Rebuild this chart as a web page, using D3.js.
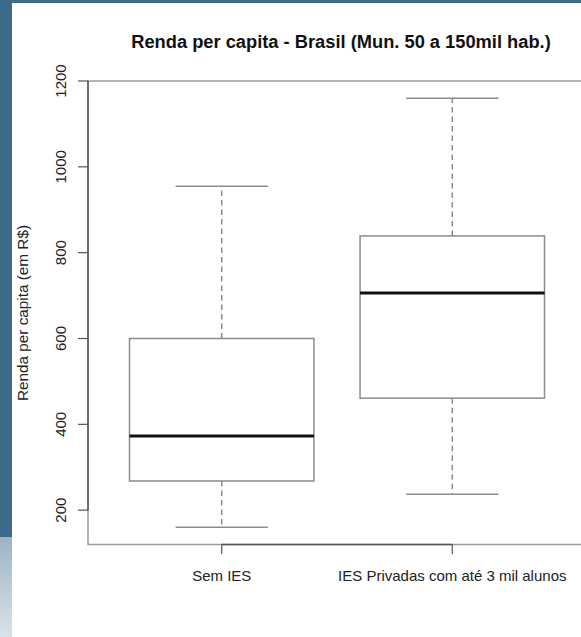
<!DOCTYPE html>
<html>
<head>
<meta charset="utf-8">
<script src="https://cdn.jsdelivr.net/npm/d3@7"></script>
<style>
  html, body { margin: 0; padding: 0; background: #fff; }
  svg { display: block; font-family: "Liberation Sans", Arial, sans-serif; }
</style>
</head>
<body>
<svg id="chart" width="581" height="637"></svg>
<script>
// boxplot stats
const categories = ["Sem IES", "IES Privadas com até 3 mil alunos"];
const whiskerLow = [160, 237];
const q1 = [268, 461];
const median = [373, 706];
const q3 = [600, 839];
const whiskerHigh = [955, 1160];
const yTicks = [200, 400, 600, 800, 1000, 1200];

const W = 581, H = 637;
const svg = d3.select("#chart");

// page background bits (blue side band)
const defs = svg.append("defs");
const grad = defs.append("linearGradient").attr("id", "fade").attr("x1", 0).attr("y1", 0).attr("x2", 0).attr("y2", 1);
grad.append("stop").attr("offset", "0%").attr("stop-color", "#9db3c4");
grad.append("stop").attr("offset", "100%").attr("stop-color", "#d9e2e9");

svg.append("rect").attr("x", 0).attr("y", 0).attr("width", W).attr("height", 3).attr("fill", "#3d6a8a");
svg.append("rect").attr("x", 0).attr("y", 0).attr("width", 12).attr("height", 537).attr("fill", "#3d6a8a");
svg.append("rect").attr("x", 0).attr("y", 537).attr("width", 12).attr("height", H - 537).attr("fill", "url(#fade)");

// scales
const x = d3.scaleLinear().domain([0.42, 2.58]).range([88, 586]);
const y = d3.scaleLinear().domain([120, 1200]).range([544.5, 81]);

const boxW = (x(2) - x(1)) * 0.8;
const capW = boxW * 0.5;

const data = categories.map((c, i) => ({
  name: c, pos: i + 1,
  lo: whiskerLow[i], q1: q1[i], med: median[i], q3: q3[i], hi: whiskerHigh[i]
}));

const grey = "#8c8c8c";

// frame
svg.append("rect")
  .attr("x", x(0.42)).attr("y", y(1200))
  .attr("width", x(2.58) - x(0.42)).attr("height", y(120) - y(1200))
  .attr("fill", "none").attr("stroke", "#9a9a9a").attr("stroke-width", 1.5);

const g = svg.append("g").selectAll("g").data(data).join("g");

// whiskers
g.append("line")
  .attr("x1", d => x(d.pos)).attr("x2", d => x(d.pos))
  .attr("y1", d => y(d.q3)).attr("y2", d => y(d.hi))
  .attr("stroke", grey).attr("stroke-width", 1.5).attr("stroke-dasharray", "5.5,4");
g.append("line")
  .attr("x1", d => x(d.pos)).attr("x2", d => x(d.pos))
  .attr("y1", d => y(d.q1)).attr("y2", d => y(d.lo))
  .attr("stroke", grey).attr("stroke-width", 1.5).attr("stroke-dasharray", "5.5,4");

// caps
g.append("line")
  .attr("x1", d => x(d.pos) - capW / 2).attr("x2", d => x(d.pos) + capW / 2)
  .attr("y1", d => y(d.hi)).attr("y2", d => y(d.hi))
  .attr("stroke", grey).attr("stroke-width", 1.5);
g.append("line")
  .attr("x1", d => x(d.pos) - capW / 2).attr("x2", d => x(d.pos) + capW / 2)
  .attr("y1", d => y(d.lo)).attr("y2", d => y(d.lo))
  .attr("stroke", grey).attr("stroke-width", 1.5);

// boxes
g.append("rect")
  .attr("x", d => x(d.pos) - boxW / 2).attr("width", boxW)
  .attr("y", d => y(d.q3)).attr("height", d => y(d.q1) - y(d.q3))
  .attr("fill", "#fff").attr("stroke", grey).attr("stroke-width", 1.5);

// medians
g.append("line")
  .attr("x1", d => x(d.pos) - boxW / 2).attr("x2", d => x(d.pos) + boxW / 2)
  .attr("y1", d => y(d.med)).attr("y2", d => y(d.med))
  .attr("stroke", "#111").attr("stroke-width", 3);

// y axis
const axisCol = "#555";
svg.append("line")
  .attr("x1", 88).attr("x2", 88)
  .attr("y1", y(yTicks[0])).attr("y2", y(yTicks[yTicks.length - 1]))
  .attr("stroke", axisCol).attr("stroke-width", 1.5);
svg.selectAll(".ytick").data(yTicks).join("line")
  .attr("x1", 78).attr("x2", 88)
  .attr("y1", d => y(d)).attr("y2", d => y(d))
  .attr("stroke", axisCol).attr("stroke-width", 1.2);
svg.selectAll(".ylab").data(yTicks).join("text")
  .attr("transform", d => `translate(66,${y(d)}) rotate(-90)`)
  .attr("text-anchor", "middle")
  .attr("font-size", 15).attr("fill", "#222")
  .text(d => d);

// x axis
svg.append("line")
  .attr("x1", x(1)).attr("x2", x(2))
  .attr("y1", 544.5).attr("y2", 544.5)
  .attr("stroke", axisCol).attr("stroke-width", 1.5);
svg.selectAll(".xtick").data(data).join("line")
  .attr("x1", d => x(d.pos)).attr("x2", d => x(d.pos))
  .attr("y1", 544.5).attr("y2", 554)
  .attr("stroke", axisCol).attr("stroke-width", 1.2);
svg.selectAll(".xlab").data(data).join("text")
  .attr("x", d => x(d.pos)).attr("y", 581)
  .attr("text-anchor", "middle")
  .attr("font-size", 15).attr("fill", "#222")
  .text(d => d.name);

// titles
svg.append("text")
  .attr("x", 341).attr("y", 48)
  .attr("text-anchor", "middle")
  .attr("font-size", 18.3).attr("font-weight", "bold").attr("fill", "#111")
  .text("Renda per capita - Brasil (Mun. 50 a 150mil hab.)");

svg.append("text")
  .attr("transform", `translate(28,313) rotate(-90)`)
  .attr("text-anchor", "middle")
  .attr("font-size", 15.3).attr("fill", "#222")
  .text("Renda per capita (em R$)");
</script>
</body>
</html>
